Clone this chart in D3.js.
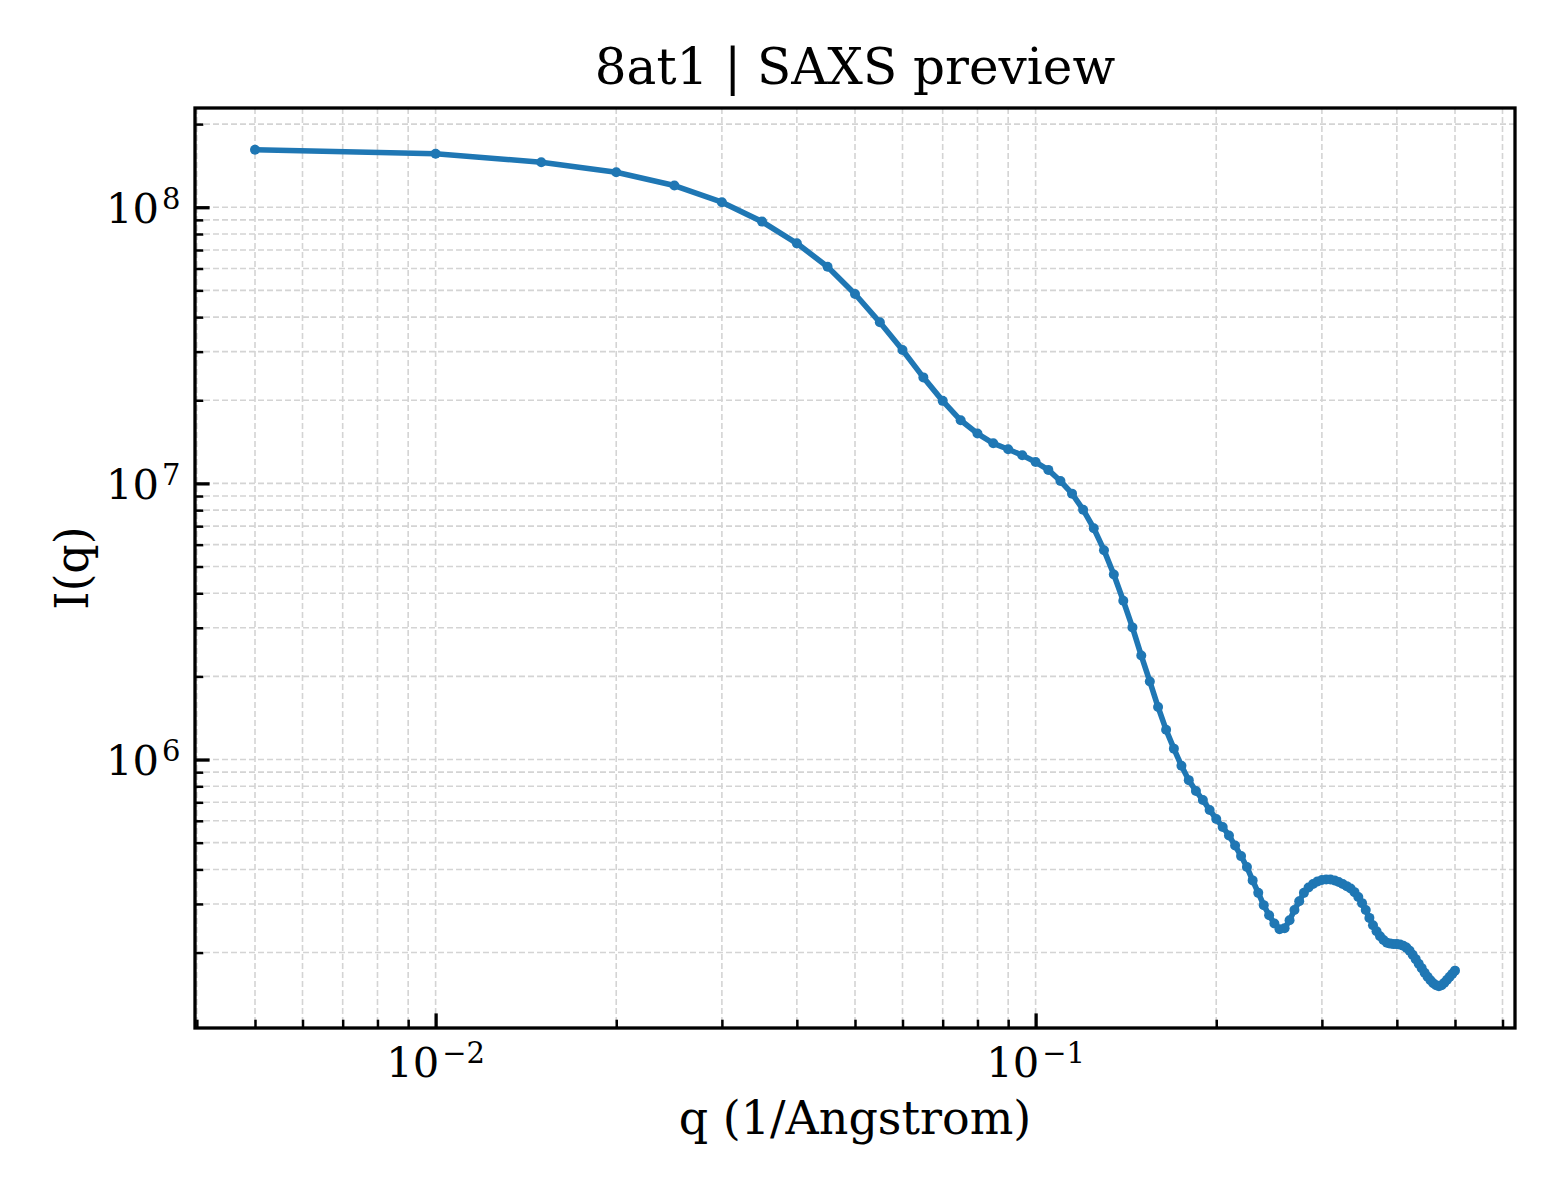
<!DOCTYPE html>
<html>
<head>
<meta charset="utf-8">
<script src="https://cdn.jsdelivr.net/npm/d3@7/dist/d3.min.js"></script>
<style>
    html, body { margin: 0; padding: 0; background: #ffffff; overflow: hidden; }
    #chart { display: block; }
    svg text { font-family: "DejaVu Serif", serif; fill: #000000; }
</style>
</head>
<body>
<svg id="chart" width="1560" height="1200"></svg>
<script>
// ---------------------------------------------------------------------------
// Data read off the SAXS preview (q in 1/Angstrom, I(q) arbitrary units)

const chartTitle = "8at1 | SAXS preview";
const xLabel = "q (1/Angstrom)";
const yLabel = "I(q)";

const qValues = [
    0.005, 0.010, 0.015, 0.020, 0.025, 0.030, 0.035, 0.040, 0.045, 0.050,
    0.055, 0.060, 0.065, 0.070, 0.075, 0.080, 0.085, 0.090, 0.095, 0.100,
    0.105, 0.110, 0.115, 0.120, 0.125, 0.130, 0.135, 0.140, 0.145, 0.150,
    0.155, 0.160, 0.165, 0.170, 0.175, 0.180, 0.185, 0.190, 0.195, 0.200,
    0.205, 0.210, 0.215, 0.220, 0.225, 0.230, 0.235, 0.240, 0.245, 0.250,
    0.255, 0.260, 0.265, 0.270, 0.275, 0.280, 0.285, 0.290, 0.295, 0.300,
    0.305, 0.310, 0.315, 0.320, 0.325, 0.330, 0.335, 0.340, 0.345, 0.350,
    0.355, 0.360, 0.365, 0.370, 0.375, 0.380, 0.385, 0.390, 0.395, 0.400,
    0.405, 0.410, 0.415, 0.420, 0.425, 0.430, 0.435, 0.440, 0.445, 0.450,
    0.455, 0.460, 0.465, 0.470, 0.475, 0.480, 0.485, 0.490, 0.495, 0.500
];

const intensity = [
    1.614e8, 1.561e8, 1.456e8, 1.339e8, 1.198e8, 1.043e8, 8.87e7, 7.40e7, 6.09e7, 4.85e7,
    3.83e7, 3.04e7, 2.42e7, 1.99e7, 1.692e7, 1.515e7, 1.397e7, 1.329e7, 1.264e7, 1.195e7,
    1.119e7, 1.020e7, 9.18e6, 8.03e6, 6.88e6, 5.73e6, 4.68e6, 3.76e6, 3.01e6, 2.38e6,
    1.918e6, 1.549e6, 1.281e6, 1.095e6, 9.49e5, 8.42e5, 7.69e5, 7.14e5, 6.57e5, 6.09e5,
    5.70e5, 5.31e5, 4.88e5, 4.47e5, 4.08e5, 3.65e5, 3.29e5, 2.97e5, 2.73e5, 2.55e5,
    2.43e5, 2.45e5, 2.62e5, 2.85e5, 3.07e5, 3.29e5, 3.44e5, 3.54e5, 3.62e5, 3.66e5,
    3.68e5, 3.68e5, 3.65e5, 3.60e5, 3.54e5, 3.48e5, 3.41e5, 3.31e5, 3.18e5, 3.02e5,
    2.85e5, 2.67e5, 2.51e5, 2.39e5, 2.29e5, 2.22e5, 2.17e5, 2.155e5, 2.146e5, 2.146e5,
    2.137e5, 2.118e5, 2.084e5, 2.032e5, 1.965e5, 1.893e5, 1.823e5, 1.756e5, 1.691e5, 1.635e5,
    1.588e5, 1.549e5, 1.524e5, 1.511e5, 1.524e5, 1.556e5, 1.595e5, 1.635e5, 1.677e5, 1.720e5
];

// major tick labels are written as 10^exponent
const xTickExponents = [-2, -1];
const yTickExponents = [6, 7, 8];

// ---------------------------------------------------------------------------
// Layout

const width = 1560;
const height = 1200;
const margin = { top: 108, right: 45, bottom: 172, left: 195 };
const innerWidth = width - margin.left - margin.right;
const innerHeight = height - margin.top - margin.bottom;

const lineColor = "#1f77b4";
const tickFont = 41.7;
const supFont = 29;

// matplotlib style autoscale: 5% padding in log space
function logPadded(extent) {
    const lo = Math.log10(extent[0]);
    const hi = Math.log10(extent[1]);
    const pad = (hi - lo) * 0.05;
    return [Math.pow(10, lo - pad), Math.pow(10, hi + pad)];
}

const points = qValues.map((q, i) => ({ x: q, y: intensity[i] }));

const xScale = d3.scaleLog()
    .domain(logPadded(d3.extent(qValues)))
    .range([0, innerWidth]);

const yScale = d3.scaleLog()
    .domain(logPadded(d3.extent(intensity)))
    .range([innerHeight, 0]);

const isPowerOfTen = v => Math.abs(Math.log10(v) - Math.round(Math.log10(v))) < 1e-9;

const xAllTicks = xScale.ticks();
const yAllTicks = yScale.ticks();
const xMajor = xTickExponents.map(e => Math.pow(10, e));
const yMajor = yTickExponents.map(e => Math.pow(10, e));
const xMinor = xAllTicks.filter(v => !isPowerOfTen(v));
const yMinor = yAllTicks.filter(v => !isPowerOfTen(v));

const svg = d3.select("#chart");

svg.append("rect")
    .attr("width", width)
    .attr("height", height)
    .attr("fill", "#ffffff");

const g = svg.append("g")
    .attr("transform", "translate(" + margin.left + "," + margin.top + ")");

// ---------------------------------------------------------------------------
// Grid (major + minor, dashed)

const grid = g.append("g")
    .attr("stroke", "#d4d4d4")
    .attr("stroke-width", 1.6)
    .attr("stroke-dasharray", "6,3");

grid.selectAll("line.vgrid")
    .data(xAllTicks)
    .enter()
    .append("line")
        .attr("class", "vgrid")
        .attr("x1", d => xScale(d))
        .attr("x2", d => xScale(d))
        .attr("y1", 0)
        .attr("y2", innerHeight);

grid.selectAll("line.hgrid")
    .data(yAllTicks)
    .enter()
    .append("line")
        .attr("class", "hgrid")
        .attr("x1", 0)
        .attr("x2", innerWidth)
        .attr("y1", d => yScale(d))
        .attr("y2", d => yScale(d));

// ---------------------------------------------------------------------------
// Curve with markers

const line = d3.line()
    .x(d => xScale(d.x))
    .y(d => yScale(d.y));

g.append("path")
    .datum(points)
    .attr("d", line)
    .attr("fill", "none")
    .attr("stroke", lineColor)
    .attr("stroke-width", 5.6)
    .attr("stroke-linejoin", "round")
    .attr("stroke-linecap", "butt");

g.selectAll("circle.pt")
    .data(points)
    .enter()
    .append("circle")
        .attr("class", "pt")
        .attr("cx", d => xScale(d.x))
        .attr("cy", d => yScale(d.y))
        .attr("r", 5.0)
        .attr("fill", lineColor);

// ---------------------------------------------------------------------------
// Axes: ticks point inward, no top/right ticks, labels drawn separately

function styleTicks(sel, w) {
    sel.select(".domain").remove();
    sel.selectAll(".tick text").remove();
    sel.selectAll(".tick line").attr("stroke", "#000").attr("stroke-width", w);
}

const xMinorAxis = g.append("g")
    .attr("transform", "translate(0," + innerHeight + ")")
    .call(d3.axisBottom(xScale).tickValues(xMinor).tickSize(-8.3).tickSizeOuter(0));
styleTicks(xMinorAxis, 2.5);

const yMinorAxis = g.append("g")
    .call(d3.axisLeft(yScale).tickValues(yMinor).tickSize(-8.3).tickSizeOuter(0));
styleTicks(yMinorAxis, 2.5);

const xMajorAxis = g.append("g")
    .attr("transform", "translate(0," + innerHeight + ")")
    .call(d3.axisBottom(xScale).tickValues(xMajor).tickSize(-14.6).tickSizeOuter(0));
styleTicks(xMajorAxis, 3.3);

const yMajorAxis = g.append("g")
    .call(d3.axisLeft(yScale).tickValues(yMajor).tickSize(-14.6).tickSizeOuter(0));
styleTicks(yMajorAxis, 3.3);

// power-of-ten labels: base "10" and exponent as two plain texts,
// placed side by side after measuring them.
// anchor: "middle" centres the pair on x, "end" right-aligns it at x
const supGap = 3;
function powerLabels(parent, values, exps, xOf, yOf, anchor) {
    const labelGroup = parent.append("g");
    values.forEach((v, i) => {
        const base = labelGroup.append("text")
            .attr("font-size", tickFont)
            .text("10");
        const sup = labelGroup.append("text")
            .attr("font-size", supFont)
            .text(String(exps[i]).replace("-", "\u2212"));
        const wBase = base.node().getComputedTextLength();
        const wSup = sup.node().getComputedTextLength();
        const total = wBase + wSup + supGap;
        const x0 = anchor === "middle" ? xOf(v) - total / 2 : xOf(v) - total;
        base.attr("x", x0).attr("y", yOf(v));
        sup.attr("x", x0 + wBase + supGap).attr("y", yOf(v) - 14);
    });
}

powerLabels(g, xMajor, xTickExponents, d => xScale(d), d => innerHeight + 48.5, "middle");
powerLabels(g, yMajor, yTickExponents, d => -14.6, d => yScale(d) + 15.5, "end");

// frame
g.append("rect")
    .attr("width", innerWidth)
    .attr("height", innerHeight)
    .attr("fill", "none")
    .attr("stroke", "#000")
    .attr("stroke-width", 3.3);

// ---------------------------------------------------------------------------
// Texts

svg.append("text")
    .attr("x", margin.left + innerWidth / 2)
    .attr("y", margin.top - 24)
    .attr("text-anchor", "middle")
    .attr("font-size", 50)
    .text(chartTitle);

svg.append("text")
    .attr("x", margin.left + innerWidth / 2)
    .attr("y", 1134)
    .attr("text-anchor", "middle")
    .attr("font-size", 46)
    .text(xLabel);

svg.append("text")
    .attr("transform", "translate(88," + (margin.top + innerHeight / 2) + ") rotate(-90)")
    .attr("text-anchor", "middle")
    .attr("font-size", 46)
    .text(yLabel);
</script>
</body>
</html>
